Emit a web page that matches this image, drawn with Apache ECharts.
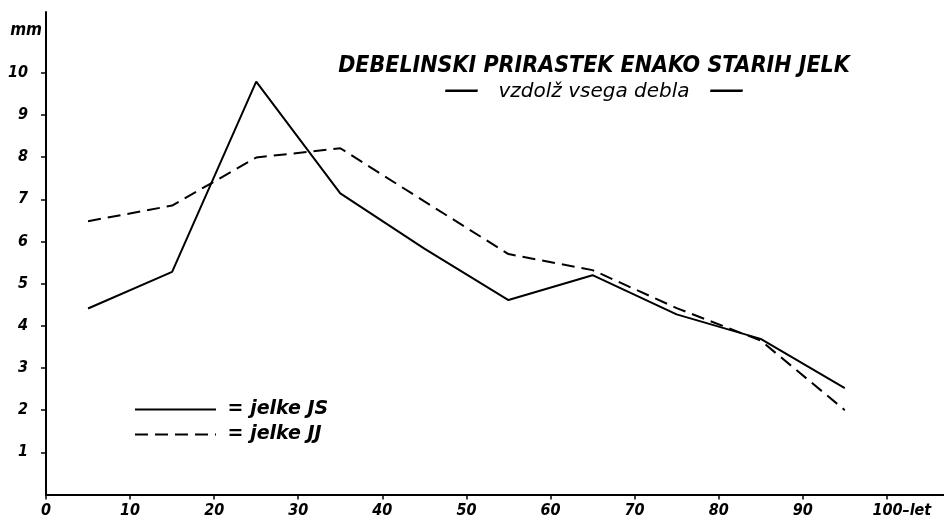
<!DOCTYPE html>
<html>
<head>
<meta charset="utf-8">
<script src="https://cdn.jsdelivr.net/npm/echarts@6/dist/echarts.min.js"></script>
<style>
  html, body { margin: 0; padding: 0; background: #fff; }
  #chart { width: 944px; height: 520px; }
</style>
</head>
<body>
<div id="chart"></div>
<script>
// Data
const ages = [5, 15, 25, 35, 45, 55, 65, 75, 85, 95];
const jelkeJS = [4.41, 5.28, 9.79, 7.14, 5.83, 4.61, 5.20, 4.27, 3.69, 2.52];
const jelkeJJ = [6.48, 6.85, 7.99, 8.21, 6.95, 5.70, 5.32, 4.42, 3.65, 2.00];
const xTicks = [0, 10, 20, 30, 40, 50, 60, 70, 80, 90, 100];
const yTicks = [1, 2, 3, 4, 5, 6, 7, 8, 9, 10];
const seriesNames = ['jelke JS', 'jelke JJ'];
const titleText = 'DEBELINSKI PRIRASTEK ENAKO STARIH JELK';
const subtitleText = '{d|—}   vzdolž vsega debla   {d|—}';

const FONT_C = '"DejaVu Sans Condensed", "DejaVu Sans", sans-serif';
const FONT_W = '"DejaVu Sans", sans-serif';

const chart = echarts.init(document.getElementById('chart'), null, { renderer: 'canvas' });

function pairs(xs, ys) { return xs.map((x, i) => [x, ys[i]]); }

const option = {
  backgroundColor: '#ffffff',
  animation: false,
  title: {
    text: titleText,
    subtext: subtitleText,
    left: 589,
    top: 50,
    textAlign: 'center',
    itemGap: -4,
    textStyle: { fontFamily: FONT_C, fontStyle: 'italic', fontWeight: 'bold', fontSize: 23, color: '#000' },
    subtextStyle: {
      fontFamily: FONT_W, fontStyle: 'italic', fontWeight: 'normal', fontSize: 20, color: '#000',
      rich: { d: { fontFamily: FONT_W, fontSize: 36, color: '#000', fontWeight: 'normal' } }
    }
  },
  legend: {
    orient: 'vertical',
    left: 129,
    top: 395,
    itemWidth: 81,
    itemHeight: 14,
    itemGap: 6,
    itemStyle: { opacity: 0, borderWidth: 0 },
    formatter: function (name) { return ' = ' + name; },
    textStyle: { fontFamily: FONT_W, fontStyle: 'italic', fontWeight: 'bold', fontSize: 19, color: '#000' },
    data: seriesNames
  },
  grid: { left: 46, right: 0, top: 12, bottom: 25.5, containLabel: false },
  xAxis: {
    type: 'value',
    min: 0,
    max: 106.8,
    interval: 10,
    splitLine: { show: false },
    axisLine: { show: true, lineStyle: { color: '#000', width: 2 } },
    axisTick: { show: true, customValues: xTicks, length: 5, inside: false, lineStyle: { color: '#000', width: 1.5 } },
    axisLabel: {
      customValues: xTicks,
      margin: 8,
      color: '#000',
      fontFamily: FONT_C, fontStyle: 'italic', fontWeight: 'bold', fontSize: 16,
      formatter: function (v) { return v === 100 ? '{e|100–let}' : String(v); },
      rich: { e: { fontFamily: FONT_C, fontStyle: 'italic', fontWeight: 'bold', fontSize: 16, color: '#000', padding: [0, 0, 0, 30] } }
    }
  },
  yAxis: {
    type: 'value',
    min: 0,
    max: 11.44,
    interval: 1,
    name: 'mm',
    nameLocation: 'end',
    nameGap: -19,
    nameTextStyle: { fontFamily: FONT_C, fontStyle: 'italic', fontWeight: 'bold', fontSize: 17, color: '#000', align: 'right', verticalAlign: 'middle', padding: [0, 4, 0, 0] },
    splitLine: { show: false },
    axisLine: { show: true, lineStyle: { color: '#000', width: 2 } },
    axisTick: { show: true, customValues: yTicks, length: 5, lineStyle: { color: '#000', width: 1.5 } },
    axisLabel: {
      customValues: yTicks,
      margin: 18,
      color: '#000',
      fontFamily: FONT_C, fontStyle: 'italic', fontWeight: 'bold', fontSize: 16
    }
  },
  series: [
    {
      name: seriesNames[0],
      type: 'line',
      data: pairs(ages, jelkeJS),
      symbol: 'none',
      lineStyle: { color: '#000', width: 2, type: 'solid' },
      itemStyle: { color: '#000' }
    },
    {
      name: seriesNames[1],
      type: 'line',
      data: pairs(ages, jelkeJJ),
      symbol: 'none',
      lineStyle: { color: '#000', width: 2, type: [13, 7] },
      itemStyle: { color: '#000' }
    }
  ]
};

chart.setOption(option);
</script>
</body>
</html>
